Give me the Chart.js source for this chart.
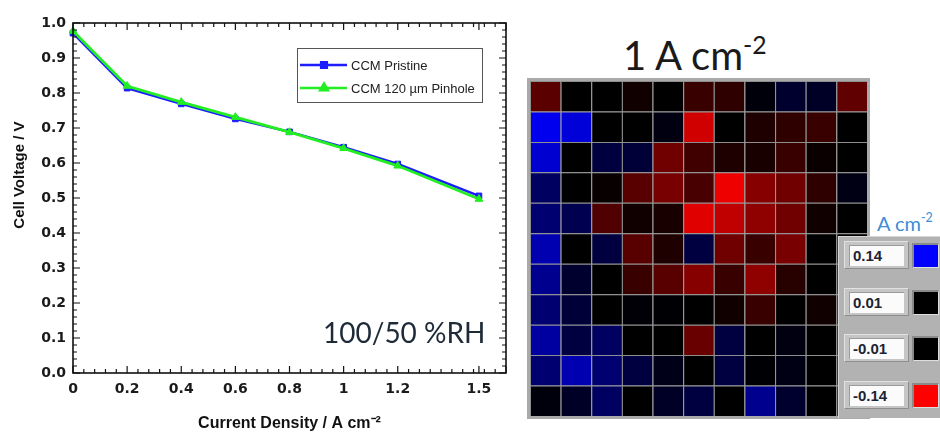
<!DOCTYPE html>
<html>
<head>
<meta charset="utf-8">
<script src="https://cdn.jsdelivr.net/npm/chart.js@4"></script>
<style>
  html, body { margin: 0; padding: 0; background: #fff; }
  #page { position: relative; width: 940px; height: 433px; overflow: hidden; background: #fff; }
  #iv { position: absolute; left: 0; top: 0; }
  .rh { position: absolute; left: 323px; top: 318px; font: 28px Lato, sans-serif; line-height: 28px; color: #1e2a38; white-space: nowrap; }
  .map-title { position: absolute; left: 623px; top: 27px; font: 40px Lato, sans-serif; line-height: 40px; color: #1a1a1a; white-space: nowrap; }
  .map-title sup, .unit sup { font-size: 0.62em; position: relative; top: -0.1em; }
  #mapFrame { position: absolute; left: 527px; top: 78px; width: 343px; height: 341px; background: #aaaaaa; }
  #map { position: absolute; left: 3px; top: 3px; }
  .unit { position: absolute; left: 877px; top: 209px; font: 20px Lato, sans-serif; line-height: 20px; color: #3a8dd6; white-space: nowrap; }
  #scalePanel { position: absolute; left: 838px; top: 236px; width: 110px; height: 182px; background: #b2b2b2;
    border-top: 1px solid #d6d6d6; border-left: 1px solid #d6d6d6; box-sizing: border-box; }
  .sp-box { position: absolute; width: 65px; height: 28px; background: #c5c5c5; box-sizing: border-box;
    border-top: 1px solid #e2e2e2; border-left: 1px solid #e2e2e2; border-right: 1px solid #8e8e8e; border-bottom: 1px solid #8e8e8e; }
  .sp-val { position: absolute; left: 4px; top: 3px; width: 55px; height: 21px; background: #fbfbfb; box-sizing: border-box;
    border-top: 1px solid #9a9a9a; border-left: 1px solid #9a9a9a;
    font: bold 15px "Liberation Sans", Arial, sans-serif; line-height: 20px; padding-left: 3px; color: #1c2333; }
  .sp-sw { position: absolute; width: 27px; height: 25px; box-sizing: border-box;
    border-top: 2px solid #8a8a8a; border-left: 2px solid #8a8a8a; border-right: 1px solid #dedede; border-bottom: 1px solid #dedede; }
</style>
</head>
<body>
<div id="page">
  <canvas id="iv" width="520" height="433" style="width:520px;height:433px"></canvas>
  <div class="rh">100/50 %RH</div>
  <div class="map-title">1 A cm<sup>-2</sup></div>
  <div id="mapFrame"><canvas id="map" width="337" height="335" style="width:337px;height:335px"></canvas></div>
  <div class="unit">A cm<sup>-2</sup></div>
  <div id="scalePanel"></div>
</div>
<script>
  // polarisation curve
  const CURRENT = [0, 0.2, 0.4, 0.6, 0.8, 1.0, 1.2, 1.5];
  const PRISTINE = [0.971, 0.814, 0.769, 0.726, 0.689, 0.645, 0.597, 0.506];
  const PINHOLE = [0.977, 0.820, 0.774, 0.731, 0.688, 0.642, 0.592, 0.497];

  const X_TICKS = [0, 0.2, 0.4, 0.6, 0.8, 1, 1.2, 1.5];
  const X_TICK_LABELS = ["0", "0.2", "0.4", "0.6", "0.8", "1", "1.2", "1.5"];
  const X_MINOR_STEP = 0.04;
  const Y_MINOR_STEP = 0.02;

  // current density map at 1 A cm-2 (A cm-2 deviation), rows top -> bottom
  const HEAT_COLUMNS = [1, 2, 3, 4, 5, 6, 7, 8, 9, 10, 11];
  const HEAT_R01 = [-0.056, 0, 0, -0.018, 0, -0.039, -0.034, 0.015, 0.034, 0.030, -0.059];
  const HEAT_R02 = [0.132, 0.120, 0, 0, 0.018, -0.116, 0, -0.026, -0.034, -0.039, 0];
  const HEAT_R03 = [0.116, 0, 0.043, 0.039, -0.067, -0.043, -0.026, -0.022, -0.039, -0.015, 0];
  const HEAT_R04 = [0.059, 0, -0.014, -0.055, -0.071, -0.047, -0.132, -0.079, -0.067, -0.034, 0.020];
  const HEAT_R05 = [0.067, 0.051, -0.051, -0.018, -0.022, -0.124, -0.108, -0.083, -0.067, -0.018, 0];
  const HEAT_R06 = [0.100, 0, 0.043, -0.055, -0.026, 0.043, -0.067, -0.039, -0.071, 0, 0];
  const HEAT_R07 = [0.083, 0.034, 0, -0.039, -0.055, -0.079, -0.039, -0.083, -0.030, 0, 0];
  const HEAT_R08 = [0.067, 0.039, 0, 0.013, 0.012, 0, -0.018, -0.039, 0, -0.018, 0];
  const HEAT_R09 = [0.092, 0.043, 0.059, 0, 0, -0.063, 0.043, 0, 0.018, 0, 0];
  const HEAT_R10 = [0.067, 0.100, 0.067, 0.043, 0.022, 0, 0.043, 0.012, 0.020, 0, 0];
  const HEAT_R11 = [0.016, 0.030, 0.059, 0, 0.030, 0.043, 0, 0.083, 0.034, 0, 0];
  const HEAT_ROWS = [HEAT_R01, HEAT_R02, HEAT_R03, HEAT_R04, HEAT_R05, HEAT_R06,
                     HEAT_R07, HEAT_R08, HEAT_R09, HEAT_R10, HEAT_R11];

  const SCALE_LABELS = ["0.14", "0.01", "-0.01", "-0.14"];

  const TICK_FONT = { family: "'DejaVu Sans', sans-serif", size: 14, weight: "bold" };
  const TITLE_FONT = { family: "'Liberation Sans', Arial, sans-serif", size: 16, weight: "bold" };

  // blue = positive, red = negative, black inside +-0.01
  function cellColor(v) {
    const lo = 0.01, hi = 0.14;
    const a = Math.abs(v);
    if (a < lo) return "rgb(0,0,0)";
    const c = Math.round(255 * Math.min(1, (a - lo) / (hi - lo)));
    return v > 0 ? `rgb(0,0,${c})` : `rgb(${c},0,0)`;
  }

  // frame + inward ticks on all four sides
  const frameTicks = {
    id: "frameTicks",
    afterDatasetsDraw(chart) {
      const { ctx, chartArea: a, scales } = chart;
      const x = scales.x, y = scales.y;
      ctx.save();
      ctx.strokeStyle = "#111";
      ctx.lineWidth = 1.2;
      const mark = (vertical, px, len) => {
        ctx.beginPath();
        if (vertical) {
          ctx.moveTo(px, a.bottom); ctx.lineTo(px, a.bottom - len);
          ctx.moveTo(px, a.top); ctx.lineTo(px, a.top + len);
        } else {
          ctx.moveTo(a.left, px); ctx.lineTo(a.left + len, px);
          ctx.moveTo(a.right, px); ctx.lineTo(a.right - len, px);
        }
        ctx.stroke();
      };
      const xMajor = X_TICKS.concat([x.max]);
      for (let v = 0; v <= x.max + 1e-9; v += X_MINOR_STEP) {
        if (xMajor.some((m) => Math.abs(m - v) < 0.015)) continue;
        mark(true, x.getPixelForValue(v), 4);
      }
      xMajor.forEach((v) => mark(true, x.getPixelForValue(v), 7));
      for (let v = 0; v <= y.max + 1e-9; v += Y_MINOR_STEP) {
        const isMajor = Math.abs(v * 10 - Math.round(v * 10)) < 1e-6;
        mark(false, y.getPixelForValue(v), isMajor ? 7 : 4);
      }
      ctx.lineWidth = 1.6;
      ctx.strokeRect(a.left, a.top, a.right - a.left, a.bottom - a.top);
      ctx.restore();
    },
  };

  // boxed legend with line + marker samples
  const boxLegend = {
    id: "boxLegend",
    afterDraw(chart) {
      const { ctx, chartArea: a } = chart;
      const bx = a.left + 224, by = a.top + 25, bw = 185, bh = 54;
      ctx.save();
      ctx.fillStyle = "#fff";
      ctx.fillRect(bx, by, bw, bh);
      ctx.strokeStyle = "#555";
      ctx.lineWidth = 1;
      ctx.strokeRect(bx + 0.5, by + 0.5, bw, bh);
      const order = chart.data.datasets.slice().sort((p, q) => q.order - p.order);
      order.forEach((ds, i) => {
        const cy = by + 17 + i * 23;
        ctx.strokeStyle = ds.borderColor;
        ctx.lineWidth = 2.5;
        ctx.beginPath();
        ctx.moveTo(bx + 3, cy);
        ctx.lineTo(bx + 50, cy);
        ctx.stroke();
        Chart.helpers.drawPoint(ctx, {
          pointStyle: ds.pointStyle, radius: ds.pointRadius, borderWidth: 1,
        }, bx + 27, cy);
        ctx.fillStyle = ds.backgroundColor;
        ctx.fill();
        ctx.fillStyle = "#222";
        ctx.font = "13px 'Liberation Sans', Arial, sans-serif";
        ctx.textBaseline = "middle";
        ctx.fillText(ds.label, bx + 54, cy + 1);
      });
      ctx.restore();
    },
  };

  new Chart(document.getElementById("iv"), {
    type: "line",
    data: {
      datasets: [
        {
          label: "CCM 120 µm Pinhole",
          data: CURRENT.map((c, i) => ({ x: c, y: PINHOLE[i] })),
          borderColor: "#22ee22",
          backgroundColor: "#22ee22",
          borderWidth: 2.8,
          pointStyle: "triangle",
          pointRadius: 4.5,
          pointBorderWidth: 1,
          clip: false,
          order: 0,
        },
        {
          label: "CCM Pristine",
          data: CURRENT.map((c, i) => ({ x: c, y: PRISTINE[i] })),
          borderColor: "#1c1cff",
          backgroundColor: "#1c1cff",
          borderWidth: 2.5,
          pointStyle: "rect",
          pointRadius: 4,
          pointBorderWidth: 1,
          clip: false,
          order: 1,
        },
      ],
    },
    options: {
      responsive: false,
      animation: false,
      devicePixelRatio: 1,
      layout: { padding: { top: 23, right: 14, left: 0, bottom: 0 } },
      plugins: { legend: { display: false }, tooltip: { enabled: false } },
      scales: {
        x: {
          type: "linear",
          min: 0,
          max: 1.6,
          grid: { display: false, drawTicks: false },
          border: { display: false },
          afterBuildTicks: (scale) => { scale.ticks = X_TICKS.map((v) => ({ value: v })); },
          afterFit: (scale) => { scale.height = 60; },
          ticks: {
            autoSkip: false,
            maxRotation: 0,
            padding: 8,
            color: "#1a1a1a",
            font: TICK_FONT,
            callback: (v) => X_TICK_LABELS[X_TICKS.indexOf(v)],
          },
          title: {
            display: true,
            text: "Current Density / A cm⁻²",
            color: "#111",
            font: TITLE_FONT,
            padding: { top: 0, bottom: 0 },
          },
        },
        y: {
          min: 0,
          max: 1,
          grid: { display: false, drawTicks: false },
          border: { display: false },
          afterFit: (scale) => { scale.width = 73; },
          ticks: {
            stepSize: 0.1,
            padding: 7,
            color: "#1a1a1a",
            font: TICK_FONT,
            callback: (v) => v.toFixed(1),
          },
          title: {
            display: true,
            text: "           Cell Voltage / V",
            color: "#111",
            font: { ...TITLE_FONT, size: 15 },
            padding: { top: 11, bottom: 0 },
          },
        },
      },
    },
    plugins: [frameTicks, boxLegend],
  });

  new Chart(document.getElementById("map"), {
    type: "bar",
    data: {
      labels: HEAT_COLUMNS,
      datasets: HEAT_ROWS.map((row) => ({
        data: row.map(() => 1),
        backgroundColor: row.map(cellColor),
        borderColor: "#8e8e8e",
        borderWidth: { top: 1, left: 1, right: 0, bottom: 0 },
        borderSkipped: false,
        barPercentage: 1,
        categoryPercentage: 1,
        inflateAmount: 0,
      })),
    },
    options: {
      responsive: false,
      animation: false,
      devicePixelRatio: 1,
      layout: { padding: 0 },
      plugins: { legend: { display: false }, tooltip: { enabled: false } },
      scales: {
        x: { stacked: true, display: false },
        y: { stacked: true, display: false, reverse: true, min: 0, max: HEAT_ROWS.length },
      },
    },
  });

  // colour scale panel
  (function buildScalePanel() {
    const panel = document.getElementById("scalePanel");
    SCALE_LABELS.forEach((lab, i) => {
      const top = 4 + i * 46.7;
      const box = document.createElement("div");
      box.className = "sp-box";
      box.style.left = "5px";
      box.style.top = top + "px";
      const val = document.createElement("div");
      val.className = "sp-val";
      val.textContent = lab;
      box.appendChild(val);
      panel.appendChild(box);

      const sw = document.createElement("div");
      sw.className = "sp-sw";
      sw.style.left = "73px";
      sw.style.top = (top + 2) + "px";
      sw.style.background = cellColor(Number(lab));
      panel.appendChild(sw);
    });
  })();
</script>
</body>
</html>
